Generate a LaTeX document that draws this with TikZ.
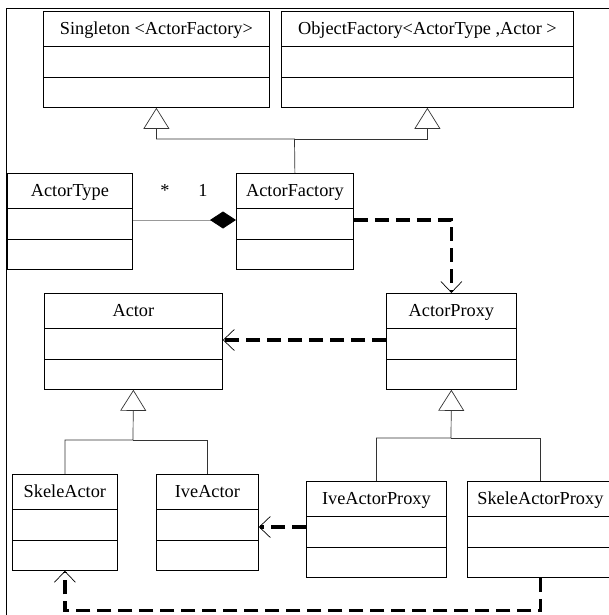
\documentclass[tikz,border=0pt]{standalone}
\usepackage{fontspec}
\setmainfont{Liberation Serif}
\usetikzlibrary{arrows.meta,positioning}
\tikzstyle{classNode}=[rectangle, draw=black, line width=0.8pt, anchor=north west,
  inner xsep=1pt, inner ysep=0pt, text height=23.5pt, text depth=72.5pt,
  font=\fontsize{18.3}{20}\selectfont,
  path picture={\draw[line width=0.8pt]
    ([yshift=-35pt]path picture bounding box.north west) -- ([yshift=-35pt]path picture bounding box.north east)
    ([yshift=-66pt]path picture bounding box.north west) -- ([yshift=-66pt]path picture bounding box.north east);}]
\tikzstyle{multNode}=[anchor=base, inner sep=0pt, font=\fontsize{18.3}{20}\selectfont]
\tikzstyle{genline}=[line width=0.7pt, draw=black!80]
\tikzstyle{gen}=[genline, -{Triangle[open,length=21pt,width=26pt]}]
\tikzstyle{comp}=[-{Diamond[length=26pt,width=17pt,color=black,fill=black]}, line width=0.8pt, draw=gray!80]
\tikzstyle{dep}=[-{Straight Barb[length=11pt,width=21pt,line width=0.7pt]}, line width=3.2pt,
  dash pattern=on 14pt off 7pt]

\begin{document}
\begin{tikzpicture}[x=1pt,y=-1pt]
\useasboundingbox (0,0) rectangle (609,615);
\draw[line width=0.8pt] (6.7,616) -- (6.7,8.3) -- (616,8.3);

\node[classNode, minimum width=226pt] (singleton) at (43,11) {Singleton <ActorFactory>};
\node[classNode, minimum width=292pt] (objfactory) at (281,11) {ObjectFactory<ActorType ,Actor >};
\node[classNode, minimum width=125pt] (actortype) at (7,173) {ActorType};
\node[classNode, minimum width=117pt] (actorfactory) at (236,173) {ActorFactory};
\node[classNode, minimum width=178pt] (actor) at (44,293) {Actor};
\node[classNode, minimum width=130pt] (actorproxy) at (386,293) {ActorProxy};
\node[classNode, minimum width=105pt] (skeleactor) at (12,474) {SkeleActor};
\node[classNode, minimum width=102pt] (iveactor) at (156,474) {IveActor};
\node[classNode, minimum width=140pt] (iveproxy) at (306,481) {IveActorProxy};
\node[classNode, minimum width=146pt] (skeleproxy) at (467,481) {SkeleActorProxy};
\node[multNode] (mstar) at (165,196) {*};
\node[multNode] (mone) at (203,196) {1};

\coordinate (factoryjoin) at (294.5,139);
\coordinate (actorjoin) at (133,440);
\coordinate (proxyjoin) at (451,438);
\coordinate (ivein) at ([yshift=-53pt]iveactor.north east);

\draw[gen] (actorfactory.north) -- (factoryjoin) -| (singleton.south);
\draw[gen] (factoryjoin) -| (objfactory.south);
\draw[gen] (skeleactor.north) |- (actorjoin) -- (actor.south);
\draw[genline] (iveactor.north) |- (actorjoin);
\draw[gen] (iveproxy.north) |- (proxyjoin) -- (actorproxy.south);
\draw[genline] (skeleproxy.north) |- (proxyjoin);
\draw[comp] ([yshift=-47pt]actortype.north east) -- ([yshift=-47pt]actorfactory.north west);
\draw[dep] ([yshift=-47pt]actorfactory.north east) -| (actorproxy.north);
\draw[dep] ([yshift=-47pt]actorproxy.north west) -- ([yshift=-47pt]actor.north east);
\draw[dep] (iveproxy.west |- ivein) -- (ivein);
\draw[dep] (skeleproxy.south) -- ++(0,33) -| (skeleactor.south);
\end{tikzpicture}
\end{document}
